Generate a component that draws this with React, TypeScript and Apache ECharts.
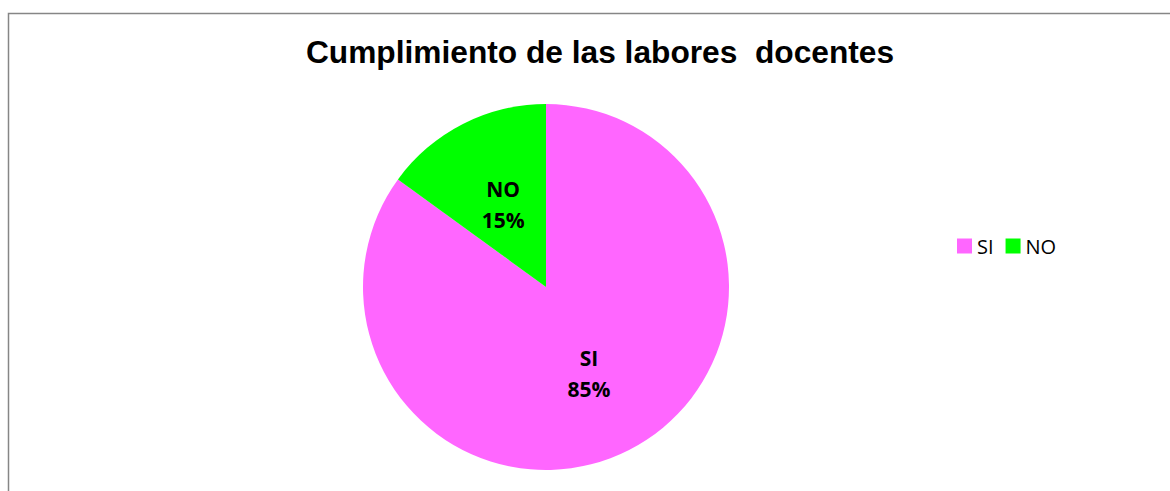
import React, { useEffect, useRef } from "react";
import * as echarts from "echarts";

const categories = ["SI", "NO"];
const values = [85, 15];
const colors = ["#FF66FF", "#00FF00"];
const titleText = "Cumplimiento de las labores  docentes";

export default function App() {
  const ref = useRef<HTMLDivElement>(null);
  useEffect(() => {
    if (!ref.current) return;
    const chart = echarts.init(ref.current, null, { renderer: "svg" });
    chart.setOption({
      animation: false,
      backgroundColor: "#ffffff",
      title: {
        text: titleText,
        left: 595,
        top: 31,
        textAlign: "center",
        textStyle: {
          fontFamily: "Liberation Sans, Arial, sans-serif",
          fontWeight: "bold",
          fontSize: 31.7,
          color: "#000",
        },
      },
      legend: {
        data: categories,
        left: 952,
        top: 231,
        icon: "rect",
        itemWidth: 15,
        itemHeight: 15,
        itemGap: 12,
        textStyle: {
          fontFamily: "Open Sans, sans-serif",
          fontSize: 20,
          color: "#000",
        },
      },
      graphic: [
        {
          type: "rect",
          shape: { x: 8.5, y: 13.5, width: 1300, height: 600 },
          style: { fill: "none", stroke: "#868686", lineWidth: 1.5 },
          silent: true,
        },
      ],
      series: [
        {
          type: "pie",
          center: [546, 287],
          radius: [0, 183],
          startAngle: 90,
          clockwise: true,
          data: categories.map((c, i) => ({
            name: c,
            value: values[i],
            itemStyle: { color: colors[i] },
          })),
          label: {
            show: true,
            position: "inside",
            formatter: (p: any) => `${p.name}\n${Math.round(p.percent)}%`,
            fontFamily: "Open Sans, sans-serif",
            fontWeight: "bold",
            fontSize: 21,
            lineHeight: 31,
            color: "#000",
            offset: [0, 2],
          },
          labelLine: { show: false },
          emphasis: { disabled: true },
        },
      ],
    });
    return () => chart.dispose();
  }, []);
  return (
    <div
      ref={ref}
      style={{ position: "fixed", left: 0, top: 0, width: 1170, height: 491 }}
    />
  );
}
